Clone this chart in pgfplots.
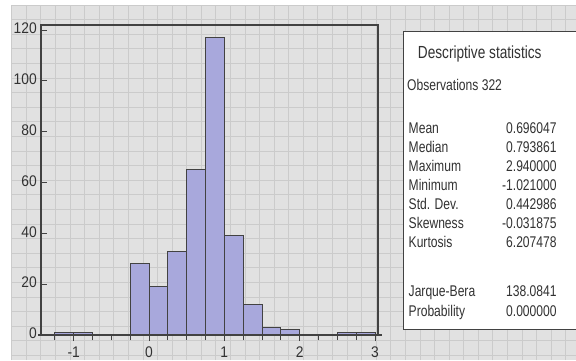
\documentclass[border=0pt]{standalone}
\usepackage{fontspec}
\setmainfont[FakeStretch=0.9]{Liberation Sans}
\newfontfamily\statfont[FakeStretch=0.78]{Liberation Sans}
\usepackage{pgfplots}
\pgfplotsset{compat=1.18}
\definecolor{bgray}{RGB}{225,225,225}
\definecolor{gline}{RGB}{203,203,203}
\definecolor{barfill}{RGB}{168,168,220}
\definecolor{txt}{RGB}{50,50,50}
\definecolor{framec}{RGB}{66,66,66}
\begin{document}
\begin{tikzpicture}[x=1bp,y=1bp]
\useasboundingbox (0,0) rectangle (576,360);
\fill[white] (0,0) rectangle (576,360);
\fill[bgray] (11.7,0) rectangle (576,355);
\foreach \k in {0,...,38} {\draw[gline, line width=0.8bp] ({11.7+14.58*\k},0) -- ({11.7+14.58*\k},355);}
\foreach \k in {0,...,24} {\draw[gline, line width=0.8bp] (11.7,{355-14.6*\k}) -- (576,{355-14.6*\k});}
\begin{axis}[
  at={(41bp,25bp)}, anchor=south west, scale only axis,
  width=337bp, height=310bp,
  xmin=-1.434, xmax=3.04, ymin=0, ymax=122,
  axis line style={draw=framec, line width=1.6bp},
  xtick={-1,0,1,2,3}, xticklabels={-1,0,1,2,3},
  minor xtick={-1.25,-0.75,-0.5,-0.25,0.25,0.5,0.75,1.25,1.5,1.75,2.25,2.5,2.75},
  ytick={0,20,40,60,80,100,120}, yticklabels={0,20,40,60,80,100,120},
  xtick pos=left, ytick pos=left,
  tick align=outside,
  major tick length=6bp, minor tick length=5bp,
  tick style={draw=framec, line width=1bp},
  y tick style={xshift=6bp},
  ticklabel style={font=\fontsize{15.4bp}{18bp}\selectfont, text=txt},
  yticklabel style={inner sep=0pt, xshift=2bp, yshift=1.5bp},
  xticklabel style={inner sep=0pt, yshift=-5.5bp},
]
\addplot[ybar interval, fill=barfill, draw=framec, line width=0.9bp] coordinates {
(-1.25,1) (-1.0,1) (-0.75,0) (-0.5,0) (-0.25,28) (0,19) (0.25,33) (0.5,65)
(0.75,117) (1.0,39) (1.25,12) (1.5,3) (1.75,2) (2.0,0) (2.25,0) (2.5,1) (2.75,1) (3.0,0)
};
\end{axis}
\draw[framec, line width=1.6bp] (38,25) -- (382,25);
% statistics box
\filldraw[fill=white, draw=framec, line width=1bp] (403,31) rectangle (600,329);
\begin{scope}[every node/.style={inner sep=0pt, text=txt}]
\node[anchor=base west, font=\statfont\fontsize{17.5bp}{20bp}\selectfont] at (417.7,301.7) {Descriptive statistics};
\node[anchor=base west, font=\statfont\fontsize{15.5bp}{18bp}\selectfont] at (407,269.3) {Observations 322};
\foreach \lab/\val/\yy in {Mean/0.696047/133.3, Median/0.793861/152.4, Maximum/2.940000/171.5, Minimum/-1.021000/190.6, Std. Dev./0.442986/209.7, Skewness/-0.031875/228.8, Kurtosis/6.207478/247.9, Jarque-Bera/138.0841/296.7, Probability/0.000000/316} {
  \node[anchor=base west, font=\statfont\fontsize{15.5bp}{18bp}\selectfont] at (408.5,{360-\yy}) {\lab};
  \node[anchor=base east, font=\statfont\fontsize{15.5bp}{18bp}\selectfont] at (556.8,{360-\yy}) {\val};
}
\end{scope}
\end{tikzpicture}
\end{document}
